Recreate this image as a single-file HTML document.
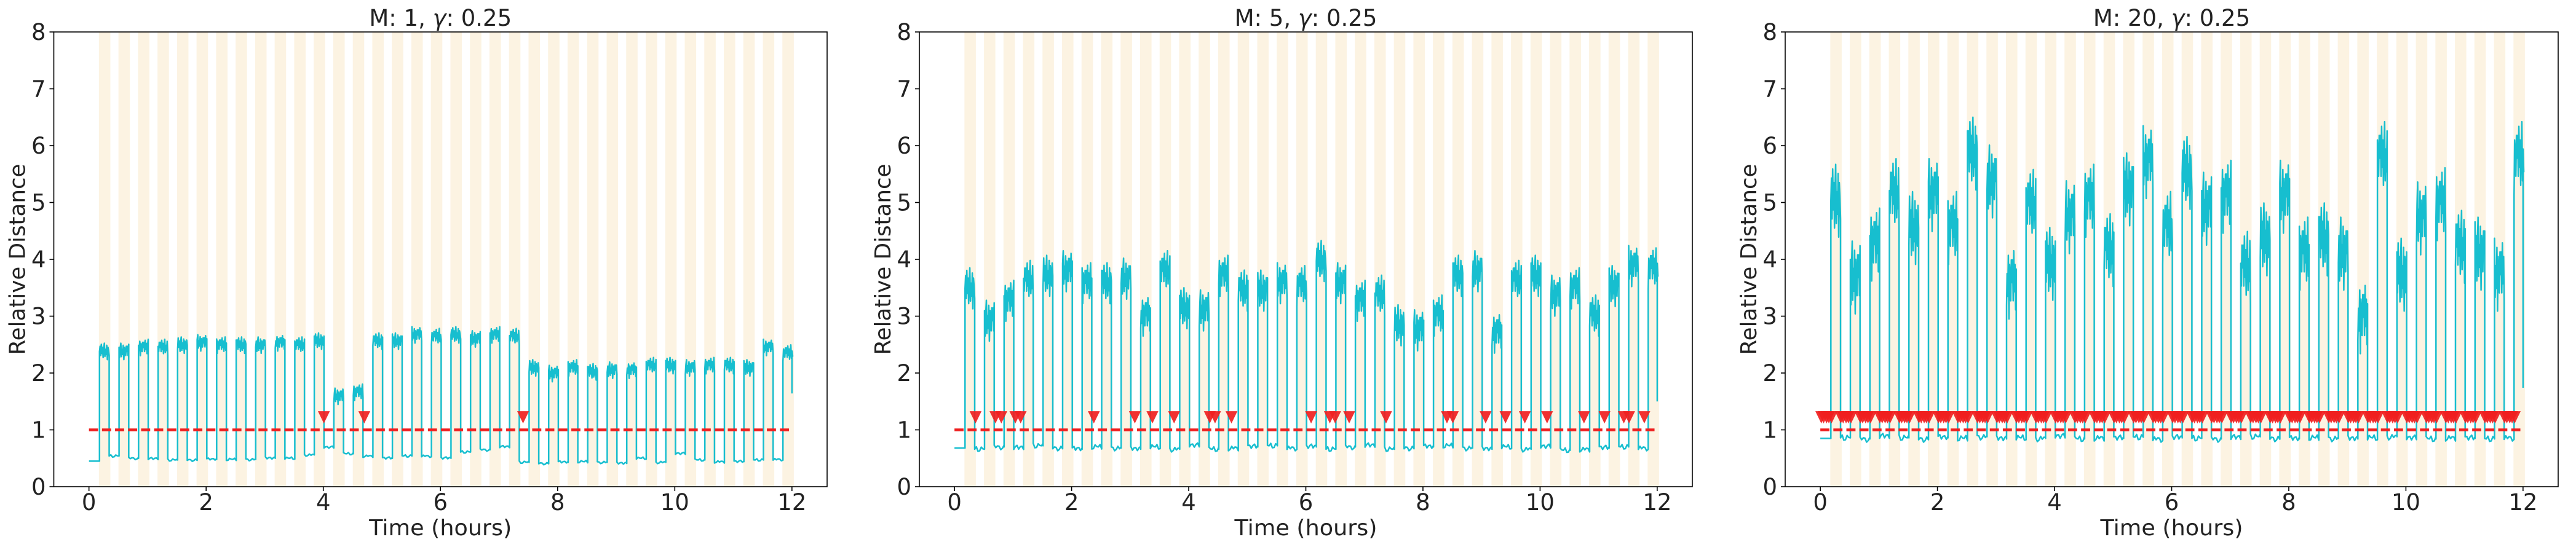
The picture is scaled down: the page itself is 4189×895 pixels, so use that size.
<!DOCTYPE html>
<html><head><meta charset="utf-8"><style>
html,body{margin:0;padding:0;background:#fff;}
svg{display:block;font-family:"DejaVu Sans","Liberation Sans",sans-serif;}
</style></head>
<body>
<svg id="chart" width="4189" height="895" viewBox="0 0 4189 895" xmlns="http://www.w3.org/2000/svg"></svg>
<script>
// ---- data ----
const panelTitles = ["M: 1", "M: 5", "M: 20"];
const gammaLabel = "0.25";
const xTicks = [0, 2, 4, 6, 8, 10, 12];
const yTicks = [0, 1, 2, 3, 4, 5, 6, 7, 8];
const threshold = 1;
const cycleCount = 36;
const cyclePeriod = 1/3;       // hours
const bandStart0 = 0.17;       // hours
const bandWidth = 0.195;       // hours
const riseOffset = 0.01;       // hours after band start
const highDuration = 0.165;    // hours

const high1 = [2.38,2.38,2.45,2.45,2.49,2.53,2.49,2.49,2.49,2.53,2.49,2.56,1.59,1.66,2.56,2.56,2.67,2.64,2.67,2.6,2.67,2.64,2.09,1.99,2.09,2.02,2.05,2.05,2.13,2.13,2.09,2.13,2.13,2.09,2.45,2.35];
const low1 = [0.45,0.54,0.5,0.49,0.47,0.47,0.48,0.48,0.48,0.5,0.5,0.56,0.69,0.58,0.54,0.5,0.54,0.54,0.5,0.61,0.65,0.7,0.43,0.41,0.43,0.44,0.43,0.41,0.5,0.43,0.58,0.47,0.44,0.44,0.47,0.48];
const end1 = 1.64;

const high2 = [3.49,2.92,3.27,3.62,3.71,3.79,3.58,3.58,3.66,3.01,3.79,3.14,3.1,3.71,3.45,3.45,3.58,3.53,3.97,3.58,3.27,3.36,2.84,2.75,3.01,3.71,3.79,2.71,3.62,3.71,3.36,3.49,3.01,3.53,3.88,3.84];
const low2 = [0.68,0.66,0.7,0.68,0.72,0.68,0.66,0.7,0.68,0.66,0.7,0.66,0.72,0.66,0.68,0.7,0.72,0.68,0.7,0.66,0.7,0.72,0.66,0.68,0.7,0.72,0.68,0.66,0.7,0.66,0.7,0.64,0.66,0.68,0.7,0.68];
const end2 = 1.5;

const high3 = [5.03,3.68,4.26,5.13,4.55,5.13,4.55,5.86,5.37,3.59,4.94,3.92,4.74,5.03,4.16,5.23,5.71,4.55,5.52,4.89,5.1,3.85,4.35,5.1,4.1,4.35,4.1,2.98,5.78,3.73,4.72,4.97,4.22,4.1,3.73,5.78];
const low3 = [0.85,0.86,0.84,0.88,0.86,0.84,0.86,0.85,0.88,0.84,0.86,0.85,0.88,0.84,0.86,0.85,0.87,0.84,0.86,0.85,0.84,0.86,0.88,0.85,0.84,0.86,0.85,0.84,0.86,0.88,0.85,0.84,0.86,0.85,0.84,0.86];
const end3 = 1.74;

const markers1 = [4.01, 4.70, 7.41];
const markers2 = [0.36,0.70,0.80,1.04,1.13,2.38,3.08,3.38,3.75,4.36,4.45,4.73,6.09,6.41,6.50,6.74,7.37,8.41,8.51,9.07,9.41,9.74,10.12,10.75,11.10,11.43,11.52,11.78];
const alarmCycles3 = [-1,0,1,2,3,4,5,6,7,8,9,10,11,12,13,14,15,16,17,18,19,20,21,22,23,24,25,26,27,28,29,30,31,32,33,34];
const alarmOffsets3 = [0.18,0.22,0.27,0.31,0.355];
const markerValue = 1.22;

// hand-drawn plateau texture
const texture = [0,0.5,-0.4,0.7,-0.2,0.4,-0.6,0.3,0.8,-0.5,0.2,-0.3,0.6,-0.8,0.4,0.1,-0.4,0.5];
const noiseHigh = [0.18, 0.45, 0.8];
const noiseLow = [0.03, 0.06, 0.07];

// ---- layout ----
const NS = "http://www.w3.org/2000/svg";
const svgRoot = document.getElementById("chart");
const panels = [
  {left:87.5, right:1345, high:high1, low:low1, end:end1, markers:markers1},
  {left:1495, right:2752, high:high2, low:low2, end:end2, markers:markers2},
  {left:2903, right:4160, high:high3, low:low3, end:end3, markers:null}
];
const axTop = 52, axBottom = 792;
const xMin = -0.6, xMax = 12.6, yMin = 0, yMax = 8;

function mk(tag, attrs, parent){
  const e = document.createElementNS(NS, tag);
  for (const k in attrs) e.setAttribute(k, attrs[k]);
  (parent||svgRoot).appendChild(e);
  return e;
}

panels.forEach((p, pi) => {
  const X = t => p.left + (t - xMin) / (xMax - xMin) * (p.right - p.left);
  const Y = v => axBottom - (v - yMin) / (yMax - yMin) * (axBottom - axTop);
  const g = mk("g", {});
  
  

  const bg = mk("g", {}, g);
  
  
  for (let k = 0; k < cycleCount; k++) {
    const s = bandStart0 + k * cyclePeriod;
    const r = mk("rect", {x:X(s), y:axTop, width:X(s+bandWidth)-X(s), height:axBottom-axTop, fill:"#fcf3e2"}, bg);
    
    
  }

  let pts = [[X(0), Y(p.low[0])]];
  for (let k = 0; k < cycleCount; k++) {
    const tr = bandStart0 + riseOffset + k * cyclePeriod;
    const tf = tr + highDuration;
    pts.push([X(tr), Y(p.low[k])]);
    const n = 16;
    for (let i = 0; i <= n; i++) {
      const t = tr + (tf - tr) * i / n;
      const j = texture[(i + k * 5) % texture.length];
      pts.push([X(t), Y(p.high[k] + j * noiseHigh[pi])]);
    }
    if (k < cycleCount - 1) {
      const nl = p.low[k+1];
      const tn = tr + cyclePeriod;
      const m = 6;
      for (let i = 0; i <= m; i++) {
        const t = tf + (tn - tf) * i / m;
        const j = texture[(i * 3 + k) % texture.length];
        pts.push([X(t), Y(nl + j * noiseLow[pi])]);
      }
    } else {
      pts.push([X(12), Y(p.high[k])]);
      pts.push([X(12), Y(p.end)]);
    }
  }
  const line = mk("polyline", {points: pts.map(q => q[0].toFixed(1)+","+q[1].toFixed(1)).join(" "), fill:"none", stroke:"#17becf", "stroke-width":2.5, "stroke-linejoin":"round"}, g);
  
  

  const th = mk("line", {x1:X(0), x2:X(12), y1:Y(threshold), y2:Y(threshold), stroke:"#ee2020", "stroke-width":4.5, "stroke-dasharray":"14.8 6.4"}, g);
  
  

  let mt = p.markers;
  if (!mt) {
    mt = [];
    alarmCycles3.forEach(c => alarmOffsets3.forEach(o => mt.push(bandStart0 + c * cyclePeriod + o)));
  }
  const mg = mk("g", {}, g);
  
  
  mt.forEach(t => {
    const cx = X(t), cy = Y(markerValue);
    const tri = mk("polygon", {points:`${cx-9.7},${cy-10} ${cx+9.7},${cy-10} ${cx},${cy+10}`, fill:"#f02020", "fill-opacity":0.92}, mg);
    
    
  });

  const fr = mk("rect", {x:p.left, y:axTop, width:p.right-p.left, height:axBottom-axTop, fill:"none", stroke:"#000", "stroke-width":1.6}, g);
  
  

  yTicks.forEach(v => {
    const tl = mk("line", {x1:p.left-7, x2:p.left, y1:Y(v), y2:Y(v), stroke:"#000", "stroke-width":1.6}, g);
    
    
    const tx = mk("text", {x:p.left-13, y:Y(v)+13, "text-anchor":"end", "font-size":37, fill:"#222"}, g);
    tx.textContent = v;
    
    
  });
  xTicks.forEach(v => {
    const tl = mk("line", {x1:X(v), x2:X(v), y1:axBottom, y2:axBottom+7, stroke:"#000", "stroke-width":1.6}, g);
    
    
    const tx = mk("text", {x:X(v), y:830, "text-anchor":"middle", "font-size":37, fill:"#222"}, g);
    tx.textContent = v;
    
    
  });

  const cx = (p.left + p.right) / 2;
  const xl = mk("text", {x:cx, y:871, "text-anchor":"middle", "font-size":36, fill:"#222", textLength:232, lengthAdjust:"spacingAndGlyphs"}, g);
  xl.textContent = "Time (hours)";
  
  
  const yl = mk("text", {x:0, y:0, "text-anchor":"middle", "font-size":36, fill:"#222", transform:`translate(${p.left-47},${(axTop+axBottom)/2}) rotate(-90)`, textLength:311, lengthAdjust:"spacingAndGlyphs"}, g);
  yl.textContent = "Relative Distance";
  
  
  const tt = mk("text", {x:cx, y:42, "text-anchor":"middle", "font-size":37, fill:"#222"}, g);
  
  
  tt.appendChild(document.createTextNode(panelTitles[pi] + ", "));
  const gm = mk("tspan", {"font-style":"italic"}, tt);
  gm.textContent = "γ";
  tt.appendChild(document.createTextNode(": " + gammaLabel));
});
</script>
</body></html>
